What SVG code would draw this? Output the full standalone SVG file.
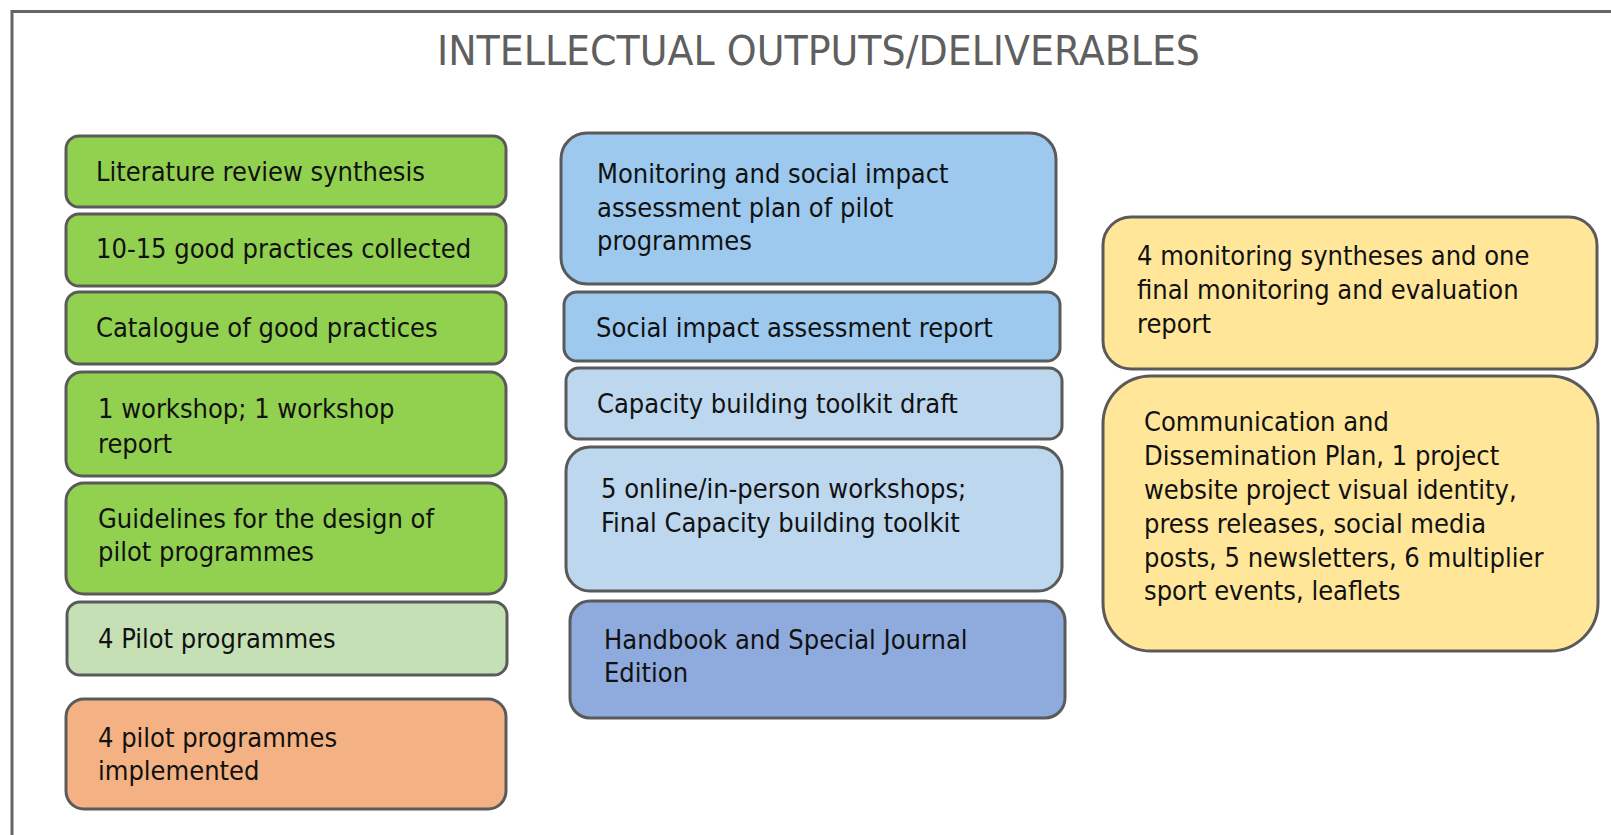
<svg xmlns="http://www.w3.org/2000/svg" width="1611" height="835" viewBox="0 0 1611 835">
<style>
.frame{fill:none;stroke:#666666;stroke-width:3}
.title{font-family:"DejaVu Sans Condensed","DejaVu Sans",sans-serif;font-stretch:condensed;font-size:41px;fill:#5f5f5f}
.box{stroke:#5a5a5a;stroke-width:3}
.t{font-family:"DejaVu Sans Condensed","DejaVu Sans",sans-serif;font-stretch:condensed;font-size:27px;fill:#111111}
.green{fill:#92D050}
.lgreen{fill:#C5E0B4}
.orange{fill:#F4B183}
.blue{fill:#9DC9EE}
.lblue{fill:#BDD7EE}
.dblue{fill:#8FAADC}
.yellow{fill:#FFE699}
</style>
<rect x="0" y="0" width="1611" height="835" fill="#ffffff"/>
<path class="frame" d="M12,835 V11.5 H1611"/>
<text class="title" x="437" y="65" textLength="763" lengthAdjust="spacingAndGlyphs">INTELLECTUAL OUTPUTS/DELIVERABLES</text>
<g id="connectors"></g>
<g id="n1"><rect class="box green" x="66" y="136" width="440" height="71" rx="13"/><text class="t" x="96" y="181">Literature review synthesis</text></g>
<g id="n2"><rect class="box green" x="66" y="214" width="440" height="72" rx="13"/><text class="t" x="96" y="258">10-15 good practices collected</text></g>
<g id="n3"><rect class="box green" x="66" y="292" width="440" height="72" rx="13"/><text class="t" x="96" y="337">Catalogue of good practices</text></g>
<g id="n4"><rect class="box green" x="66" y="372" width="440" height="104" rx="16"/><text class="t" x="98" y="418">1 workshop; 1 workshop<tspan x="98" y="453">report</tspan></text></g>
<g id="n5"><rect class="box green" x="66" y="483" width="440" height="111" rx="18"/><text class="t" x="98" y="528">Guidelines for the design of<tspan x="98" y="561">pilot programmes</tspan></text></g>
<g id="n6"><rect class="box lgreen" x="67" y="602" width="440" height="73" rx="13"/><text class="t" x="98" y="648">4 Pilot programmes</text></g>
<g id="n7"><rect class="box orange" x="66" y="699" width="440" height="110" rx="18"/><text class="t" x="98" y="747">4 pilot programmes<tspan x="98" y="780">implemented</tspan></text></g>
<g id="m1"><rect class="box blue" x="561" y="133" width="495" height="151" rx="26"/><text class="t" x="597" y="183">Monitoring and social impact<tspan x="597" y="217">assessment plan of pilot</tspan><tspan x="597" y="250">programmes</tspan></text></g>
<g id="m2"><rect class="box blue" x="564" y="292" width="496" height="69" rx="13"/><text class="t" x="596" y="337">Social impact assessment report</text></g>
<g id="m3"><rect class="box lblue" x="566" y="368" width="496" height="71" rx="13"/><text class="t" x="597" y="413">Capacity building toolkit draft</text></g>
<g id="m4"><rect class="box lblue" x="566" y="447" width="496" height="144" rx="24"/><text class="t" x="601" y="498">5 online/in-person workshops;<tspan x="601" y="532">Final Capacity building toolkit</tspan></text></g>
<g id="m5"><rect class="box dblue" x="570" y="601" width="495" height="117" rx="20"/><text class="t" x="604" y="649">Handbook and Special Journal<tspan x="604" y="682">Edition</tspan></text></g>
<g id="r1"><rect class="box yellow" x="1103" y="217" width="494" height="152" rx="28"/><text class="t" x="1137" y="265">4 monitoring syntheses and one<tspan x="1137" y="299">final monitoring and evaluation</tspan><tspan x="1137" y="333">report</tspan></text></g>
<g id="r2"><rect class="box yellow" x="1103" y="376" width="495" height="275" rx="48"/><text class="t" x="1144" y="431">Communication and<tspan x="1144" y="465">Dissemination Plan, 1 project</tspan><tspan x="1144" y="499">website project visual identity,</tspan><tspan x="1144" y="533">press releases, social media</tspan><tspan x="1144" y="567">posts, 5 newsletters, 6 multiplier</tspan><tspan x="1144" y="600">sport events, leaflets</tspan></text></g>
</svg>
